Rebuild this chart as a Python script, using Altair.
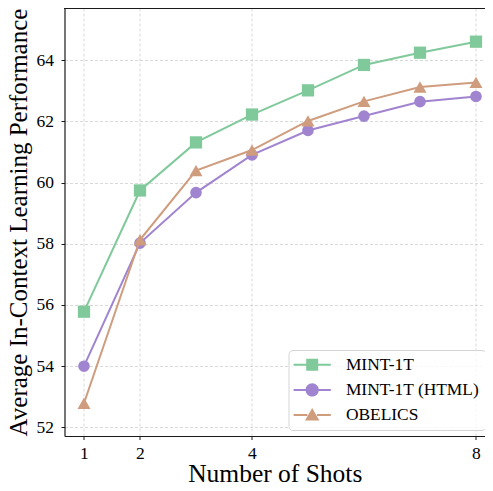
import altair as alt
import pandas as pd

# ---- data ----
shots = [1, 2, 3, 4, 5, 6, 7, 8]
mint_1t = [55.78, 59.74, 61.31, 62.22, 63.01, 63.84, 64.24, 64.60]
mint_1t_html = [54.00, 58.02, 59.67, 60.90, 61.70, 62.17, 62.64, 62.81]
obelics = [52.79, 58.13, 60.39, 61.06, 62.01, 62.65, 63.12, 63.27]

series_names = ["MINT-1T", "MINT-1T (HTML)", "OBELICS"]
x_ticks = [1, 2, 4, 8]
y_ticks = [52, 54, 56, 58, 60, 62, 64]

# ---- styles ----
colors = ["#80c99b", "#a084d0", "#cf9c7d"]
shapes = ["square", "circle", "triangle-up"]
sizes = [150, 135, 170]
# legend symbols: line with marker (unit coords, scaled by sqrt(size)/2)
legend_paths = [
    "M-3.1,-0.17 L-1,-0.17 L-1,-1 L1,-1 L1,-0.17 L3.1,-0.17 L3.1,0.17 L1,0.17 L1,1 L-1,1 L-1,0.17 L-3.1,0.17 Z",
    "M-3.1,-0.17 L-1,-0.17 L-1,0.17 L-3.1,0.17 Z M1,-0.17 L3.1,-0.17 L3.1,0.17 L1,0.17 Z "
    "M-1.1,0 A1.1,1.1 0 1,1 1.1,0 A1.1,1.1 0 1,1 -1.1,0 Z",
    "M-3.1,-0.17 L-0.8,-0.17 L-0.8,0.17 L-3.1,0.17 Z M0.8,-0.17 L3.1,-0.17 L3.1,0.17 L0.8,0.17 Z "
    "M0,-1.2 L1.2,0.9 L-1.2,0.9 Z",
]

rows = []
for name, vals in zip(series_names, [mint_1t, mint_1t_html, obelics]):
    for s, v in zip(shots, vals):
        rows.append({"shots": s, "score": v, "series": name})
df = pd.DataFrame(rows)

FONT = "Liberation Serif"
W, H = 420.5, 428
SPINE = "#1a1a1a"

x = alt.X(
    "shots:Q",
    scale=alt.Scale(domain=[0.652, 8.161], nice=False, zero=False),
    axis=alt.Axis(
        values=x_ticks, format="d", title="Number of Shots",
        labelFont=FONT, labelFontSize=17.5, labelPadding=5,
        titleFont=FONT, titleFontSize=25.5, titlePadding=19, titleBaseline="alphabetic",
    ),
)
y = alt.Y(
    "score:Q",
    scale=alt.Scale(domain=[51.72, 65.70], nice=False, zero=False),
    axis=alt.Axis(
        values=y_ticks, format="d", title="Average In-Context Learning Performance",
        labelFont=FONT, labelFontSize=17.5, labelPadding=7.5,
        titleFont=FONT, titleFontSize=25, titlePadding=9.5, titleBaseline="alphabetic",
    ),
)

layers = []
for name, c, sh, sz in zip(series_names, colors, shapes, sizes):
    base = alt.Chart(df).transform_filter(alt.datum.series == name)
    layers.append(base.mark_line(color=c, strokeWidth=2).encode(x=x, y=y))
    layers.append(
        base.mark_point(color=c, shape=sh, filled=True, size=sz, opacity=1).encode(x=x, y=y)
    )

leg = alt.Legend(
    title=None,
    orient="none",
    legendX=224,
    legendY=342,
    padding=6,
    symbolOffset=9,
    labelOffset=25,
    rowPadding=6.2,
    symbolSize=144,
    symbolStrokeWidth=0,
    symbolOpacity=1,
    labelFont=FONT,
    labelFontSize=17.4,
    labelColor="black",
    strokeColor="#d5d5d5",
    fillColor="rgba(255,255,255,0.8)",
    cornerRadius=4,
)

legend_layer = (
    alt.Chart(df)
    .transform_filter("datum.shots < 0")
    .mark_point(filled=True, size=144, opacity=1)
    .encode(
        x=x,
        y=y,
        color=alt.Color("series:N", scale=alt.Scale(domain=series_names, range=colors), legend=leg),
        shape=alt.Shape("series:N", scale=alt.Scale(domain=series_names, range=legend_paths), legend=leg),
    )
)

top_spine = (
    alt.Chart(df)
    .mark_rule(color=SPINE, strokeWidth=1.2)
    .encode(x=alt.value(0), x2=alt.value(W), y=alt.value(0))
)

chart = (
    alt.layer(*layers, legend_layer, top_spine)
    .properties(
        width=W,
        height=H,
        padding={"left": 56.5, "top": 0, "right": 0, "bottom": 47},
        autosize=alt.AutoSizeParams(type="none"),
    )
    .configure_view(stroke=None)
    .configure_axis(
        domain=True,
        domainColor=SPINE,
        domainWidth=1.2,
        labelColor="black",
        labelFont=FONT,
        titleFontWeight="normal",
        titleColor="black",
        gridColor="#cfcfcf",
        gridDash=[3, 2],
        gridWidth=0.8,
        tickColor=SPINE,
        tickSize=3.5,
    )
)

chart.save("out.html", embed_options={"renderer": "svg", "actions": False})
